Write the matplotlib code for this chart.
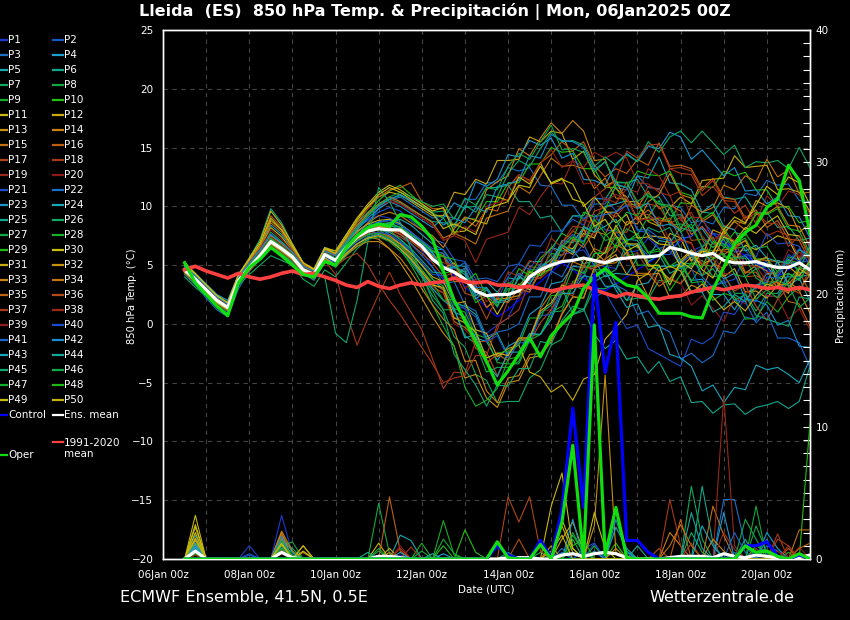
import matplotlib
matplotlib.use('Agg')
import matplotlib.pyplot as plt
import matplotlib.dates as mdates
from matplotlib.colors import LinearSegmentedColormap
from matplotlib.lines import Line2D
from matplotlib.ticker import MultipleLocator
from datetime import datetime, timedelta

# 6-hourly steps, 06Jan 12z .. 21Jan 00z
lead_hours = list(range(12, 361, 6))
run_start = datetime(2025, 1, 6)
times = [run_start + timedelta(hours=h) for h in lead_hours]

# 850 hPa temperature (degC), members P1..P50
t850_members = [
    [4.4,3.5,2.6,1.6,1.0,3.4,4.9,6.0,7.6,6.8,5.9,4.4,3.9,5.6, 5.2,6.8,8.0,8.9,9.2,9.0,8.6,7.5,6.2,4.8, 3.8,2.0,1.3,-0.5,-0.8,-0.1,0.5,2.4,3.1,4.3, 4.6,5.9,6.1,6.3,5.0,4.9,4.7,6.1,6.2,7.3, 6.4,6.2,5.1,6.2,6.6,7.7,6.8,6.4,5.2,5.3, 4.2,5.2,5.4,6.4,5.7],
    [4.9,4.1,3.2,2.3,1.7,4.0,5.1,6.2,7.3,6.5,5.5,4.8,4.5,6.2, 5.8,7.0,8.2,8.8,9.5,9.9,9.6,8.8,8.0,7.2, 6.9,5.5,5.3,3.8,3.9,3.6,4.9,5.1,6.7,6.6, 7.9,7.9,9.2,9.0,9.3,8.0,7.9,6.6,6.8,5.8, 5.9,5.9,7.3,7.4,8.8,7.7,7.5,6.1,6.3,5.0, 5.3,4.1,5.2,5.2,5.4],
    [4.2,3.3,2.2,1.2,0.6,3.0,4.5,5.5,6.5,6.0,5.2,4.3,3.7,5.2, 5.0,6.2,7.5,8.6,9.8,10.4,10.8,10.2,9.6,9.0, 9.2,9.0,10.6,10.6,12.0,12.0,13.3,13.0,13.3,11.8, 11.7,10.1,10.1,8.8,10.2,10.2,11.6,11.4,12.6,11.6, 11.5,10.1,9.9,8.6,8.8,8.5,9.9,9.8,11.1,10.9, 12.2,11.8,11.9,10.5,10.4],
    [5.1,4.3,3.4,2.5,2.0,4.2,5.4,6.6,8.4,7.6,6.4,5.1,4.6,6.5, 6.0,7.2,7.8,8.5,8.2,7.6,7.0,6.0,5.0,3.8, 2.9,1.0,0.6,-1.2,-1.5,-3.1,-1.9,-1.4,0.8,1.5, 3.4,3.6,4.9,4.8,4.7,3.2,3.2,2.0,3.3,3.5, 4.9,4.9,5.1,3.7,3.8,2.5,2.5,1.2,2.7,3.0, 4.3,4.3,5.5,4.4,4.3],
    [4.7,3.9,3.0,2.1,1.3,3.6,4.6,5.6,6.8,6.2,5.8,4.9,4.4,6.0, 5.5,6.4,7.3,7.8,8.3,8.6,8.9,8.4,7.6,6.8, 6.3,5.0,4.9,3.4,3.6,2.7,3.9,3.8,5.3,5.3, 6.5,6.2,6.3,5.1,5.4,4.0,4.3,4.2,5.6,5.7, 7.1,6.9,8.2,7.9,8.1,6.8,6.8,5.6,5.8,4.7, 4.9,3.8,4.0,4.0,4.2],
    [5.3,4.2,3.1,2.2,1.5,3.9,5.6,7.2,9.8,8.6,6.8,5.2,4.4,6.4, 6.0,7.4,8.6,9.5,10.2,10.6,10.3,9.7,9.2,8.7, 8.6,8.4,9.9,10.0,11.6,11.6,11.8,10.4,10.4,9.0, 9.2,7.8,9.2,9.2,10.7,10.6,12.0,12.0,12.3,10.8, 10.8,9.2,9.3,8.1,9.5,9.4,10.8,10.6,10.8,9.4, 9.5,8.2,8.3,7.1,7.3],
    [4.0,3.1,2.4,1.5,0.9,3.3,4.2,5.0,5.8,5.4,5.0,3.8,3.2,4.6, 4.0,5.2,6.4,7.2,7.8,7.5,6.8,5.5,4.0,2.4, 1.2,-1.1,-2.0,-4.3,-4.8,-6.7,-6.6,-6.6,-4.6,-3.9, -1.8,-1.3,0.8,1.1,3.0,3.0,3.4,2.0,2.2,2.1, 3.7,3.6,5.2,5.1,5.4,4.0,4.2,2.6,2.6,1.1, 2.6,2.6,4.2,4.1,5.3],
    [4.5,3.7,2.8,1.9,1.2,3.8,5.0,6.0,7.1,6.3,5.4,4.3,4.0,5.7, 5.2,6.3,7.2,8.0,8.6,8.4,8.2,7.6,7.0,6.2, 5.8,4.4,4.5,2.9,3.0,1.6,3.0,3.0,4.6,4.6, 6.0,5.8,7.2,7.0,8.4,7.1,7.3,5.8,6.0,4.6, 4.9,3.6,5.0,4.9,6.4,6.2,7.6,6.4,6.6,5.3, 5.6,4.4,5.7,5.5,5.8],
    [4.8,4.0,3.1,2.2,1.6,3.8,4.9,5.9,7.2,6.6,5.9,4.7,4.3,6.1, 5.6,6.6,7.6,8.2,8.4,8.0,7.2,6.2,5.0,3.8, 3.2,1.3,1.0,-0.9,-1.2,-3.3,-3.4,-3.4,-1.4,-0.9, 1.0,1.5,3.6,4.0,6.0,6.0,7.4,7.1,7.4,6.0, 6.2,4.8,5.0,3.6,5.0,4.9,6.5,6.4,7.7,6.4, 6.6,5.2,5.4,5.2,6.6],
    [4.3,3.4,2.5,1.7,1.1,3.5,4.7,5.7,6.9,6.3,5.6,4.5,4.1,5.8, 5.4,6.8,8.2,9.4,10.5,11.3,11.8,11.0,10.2,9.4, 9.0,7.6,9.0,8.9,10.4,10.4,12.0,12.0,13.6,13.6, 15.0,14.6,14.7,13.2,13.2,11.6,11.6,10.1,10.2,8.8, 9.0,8.8,10.3,10.2,11.7,11.6,13.0,12.6,12.9,11.4, 11.4,9.9,10.0,8.6,8.8],
    [5.0,4.2,3.3,2.4,1.8,4.1,5.3,6.4,8.2,7.4,6.2,5.0,4.6,6.3, 5.9,7.0,7.9,8.5,8.8,8.9,8.5,7.8,7.0,6.2, 6.0,4.3,4.7,2.5,2.4,0.8,2.4,3.4,2.9,4.4, 4.6,6.6,6.4,7.7,7.3,9.5,9.5,8.4,9.1,7.5, 7.4,7.3,5.4,6.3,4.6,3.9,5.8,5.4,6.7,6.3, 6.9,7.5,7.2,5.4,6.4],
    [4.6,3.8,2.9,2.0,1.3,3.7,5.2,6.5,8.8,8.0,6.6,5.2,4.7,6.5, 6.2,7.6,9.0,10.0,10.8,11.2,11.0,10.4,9.8,9.2, 9.2,11.2,11.0,12.3,11.9,13.9,13.9,14.0,15.9,15.5, 16.4,16.2,14.0,14.7,12.7,11.7,12.2,10.4,10.4,8.7, 8.3,9.9,10.8,10.2,12.2,12.3,12.4,14.3,13.3,13.4, 13.5,11.4,11.5,11.2,9.5],
    [4.4,3.6,2.7,1.8,1.1,3.5,4.6,5.6,6.8,6.1,5.5,4.4,4.0,5.6, 5.0,6.0,6.8,7.4,7.2,6.4,5.2,3.8,2.2,0.6, -0.8,-1.9,-4.6,-4.3,-6.3,-7.1,-5.0,-4.8,-2.9,-2.7, -1.5,0.8,2.3,2.2,4.8,5.1,5.2,6.1,4.1,4.2, 4.3,2.2,2.3,3.3,2.9,5.1,4.7,5.8,4.3,5.0, 4.5,3.0,3.6,2.9,4.2],
    [4.8,4.0,3.1,2.2,1.5,3.9,5.0,6.1,7.5,6.8,6.0,4.8,4.4,6.1, 5.8,6.9,7.8,8.6,9.2,9.5,9.2,8.6,8.0,7.5, 6.5,8.1,9.1,8.8,11.4,12.1,12.6,14.9,14.3,15.8, 17.1,16.2,17.3,16.4,13.9,14.0,11.5,10.8,8.8,9.1, 8.4,6.7,7.3,5.3,6.4,6.0,7.8,8.7,8.0,9.3, 9.4,10.0,8.4,8.3,6.5],
    [4.5,3.6,2.7,1.8,1.2,3.6,4.7,5.7,6.9,6.3,5.6,4.5,4.1,5.8, 5.3,6.3,7.1,7.6,7.8,7.5,6.8,5.8,4.6,3.4, 2.9,0.2,-0.3,-1.2,-3.3,-2.6,-3.1,-1.4,-1.2,1.3, 2.6,2.9,5.3,4.9,6.4,6.0,6.7,6.3,4.3,4.3, 3.2,3.8,3.4,4.6,4.1,6.2,6.3,6.4,7.1,5.5, 5.4,5.3,3.4,4.4,2.7],
    [4.9,4.0,3.0,2.1,1.4,3.8,5.3,6.8,9.2,8.2,6.6,5.1,4.5,6.3, 6.0,7.3,8.6,9.8,10.8,11.4,11.6,12.0,10.4,9.8, 9.8,8.3,8.9,8.3,9.8,9.6,11.6,12.7,12.2,13.7, 14.4,15.5,14.7,15.5,13.5,12.5,13.2,12.8,14.0,13.5, 15.4,13.4,13.5,13.2,11.5,12.4,10.7,10.6,9.0,9.7, 8.2,8.8,7.2,7.1,5.3],
    [4.6,3.8,2.9,2.0,1.4,3.7,4.8,5.8,7.0,6.4,5.7,4.6,4.2,5.9, 5.4,6.4,7.2,7.8,8.0,7.8,7.4,6.8,6.0,5.2, 4.0,4.4,2.6,2.3,0.4,2.3,2.5,2.8,4.9,4.7, 5.1,6.9,7.9,7.4,9.6,9.9,10.2,12.1,10.1,10.2, 10.0,8.5,9.1,7.1,7.2,5.6,6.2,5.9,4.0,4.1, 3.6,3.5,2.8,4.9,4.3],
    [4.3,3.5,2.6,1.7,1.1,3.4,4.5,5.5,6.6,6.0,5.4,4.2,3.8,5.4, 4.2,0.9,-1.8,0.5,2.5,4.4,2.5,1.0,-0.5,-3.0, -5.5,-4.1,-4.2,-1.5,-1.5,-0.5,2.0,2.2,4.0,3.9, 6.5,5.8,7.1,8.0,7.5,9.6,9.1,10.2,9.8,11.7, 11.4,13.2,12.8,12.7,10.9,11.7,10.5,9.4,10.1,8.5, 7.5,7.9,7.5,5.6,6.4],
    [4.7,3.9,3.0,2.1,1.5,3.8,5.0,6.1,7.4,6.7,6.0,4.8,4.4,6.1, 5.8,7.0,8.2,9.2,10.0,10.6,10.2,9.6,9.0,8.4, 7.1,7.5,7.1,5.2,7.2,7.5,7.8,9.9,9.3,10.8, 12.0,11.9,13.9,13.3,14.6,14.1,14.6,14.1,12.0,11.9, 11.2,10.9,8.8,9.5,7.5,6.5,8.4,8.0,9.2,8.7, 10.9,10.0,11.3,11.0,9.3],
    [4.4,3.6,2.7,1.8,1.2,3.5,4.6,5.6,6.8,6.2,5.5,4.4,4.0,5.6, 5.0,6.0,6.8,7.4,7.6,7.2,6.4,5.4,4.2,3.0, 2.7,0.0,-0.5,-1.4,-3.5,-2.4,-2.7,-1.2,-1.2,1.1, 1.2,3.4,3.4,4.9,4.5,6.5,6.5,5.4,6.1,4.5, 3.5,3.9,3.5,1.6,2.4,1.3,0.2,2.3,1.7,3.2, 4.4,4.3,6.3,5.7,7.2],
    [4.6,3.7,2.8,1.9,1.3,3.6,4.7,5.7,6.9,6.3,5.7,4.6,4.2,5.8, 5.3,6.4,7.4,8.2,8.6,8.8,8.4,7.8,7.0,6.2, 6.0,4.3,4.7,2.5,2.4,2.0,4.0,5.1,4.6,6.1, 6.1,7.9,8.9,8.4,10.6,10.7,9.6,10.1,7.9,7.8, 6.4,6.8,5.0,4.7,2.7,3.3,3.5,3.8,5.9,5.7, 7.7,6.8,6.9,6.6,4.9],
    [4.8,3.9,3.0,2.1,1.5,3.8,4.9,5.9,7.2,6.5,5.8,4.7,4.3,6.0, 5.6,6.6,7.6,8.2,8.5,8.2,7.6,6.8,5.8,4.8, 3.4,3.6,1.6,1.1,-1.1,-0.7,-0.5,0.0,2.3,2.3, 4.5,4.0,5.7,6.8,4.9,5.4,3.3,2.8,0.8,1.1, -0.2,-0.7,-3.0,-2.5,-3.3,-2.7,-0.6,-0.8,0.6,0.3, 2.4,2.3,4.3,3.7,5.2],
    [4.5,3.7,2.8,1.9,1.3,3.7,4.9,5.9,7.1,6.4,5.6,4.5,4.1,5.8, 5.5,6.8,8.0,9.0,9.8,10.4,10.0,9.4,8.8,8.2, 9.0,10.3,9.8,12.1,11.7,12.3,14.4,14.2,15.6,15.2, 15.8,14.1,14.5,12.3,12.2,11.8,13.6,14.5,13.8,15.1, 14.9,16.3,15.9,14.0,14.8,13.7,12.6,13.3,11.3,11.4, 10.2,10.8,9.2,9.1,7.3],
    [4.4,3.6,2.7,1.8,1.2,3.6,4.7,5.7,6.9,6.3,5.6,4.5,4.1,5.7, 5.2,6.2,7.2,7.9,8.4,8.6,8.2,7.6,6.9,6.1, 4.6,4.8,4.2,2.1,2.9,1.8,1.9,4.0,3.4,4.9, 5.1,7.1,6.9,8.2,7.8,10.0,10.2,10.5,12.6,12.4, 14.2,12.0,11.9,11.4,9.5,10.2,8.3,8.0,6.2,6.7, 5.6,5.3,3.2,3.9,1.9],
    [4.6,3.8,2.9,2.0,1.4,3.7,4.8,5.8,7.0,6.4,5.7,4.6,4.2,5.9, 5.4,6.4,7.2,7.8,8.0,7.8,7.2,6.4,5.4,4.4, 4.3,1.8,1.5,0.8,-1.3,-0.8,-2.7,-1.4,-1.4,0.9, 1.6,3.1,0.8,1.3,-0.9,-2.1,-1.4,-3.0,-2.8,-4.2, -3.2,-4.9,-4.5,-6.7,-6.6,-7.6,-6.9,-6.8,-7.7,-7.1, -6.9,-6.6,-7.2,-6.6,-3.6],
    [4.9,4.1,3.2,2.3,1.7,4.0,5.2,6.3,7.8,7.0,6.1,4.9,4.5,6.2, 5.9,7.1,8.3,9.3,10.1,10.6,10.9,10.5,10.0,9.5, 9.6,8.2,10.1,9.5,11.0,10.8,12.8,13.9,13.4,14.9, 16.3,15.5,15.6,15.2,13.4,14.2,13.5,14.4,13.8,15.5, 14.6,15.9,16.4,15.4,16.4,15.4,14.4,15.2,13.3,13.8, 13.7,13.9,13.2,15.0,13.3],
    [4.3,3.5,2.6,1.7,1.1,3.4,4.5,5.5,6.6,6.0,5.3,4.2,3.8,5.4, 4.8,5.8,6.6,7.2,7.4,7.0,6.2,5.2,4.0,2.8, 1.2,1.2,-1.0,-1.7,-4.1,-3.7,-3.7,-3.2,-0.9,-0.9, 1.0,1.1,3.3,2.9,4.6,4.6,6.8,8.1,7.6,9.1, 10.5,8.4,8.5,8.2,6.5,7.4,5.7,5.6,4.0,4.7, 2.9,4.5,5.3,4.6,6.6],
    [4.8,4.0,3.1,2.2,1.6,3.9,5.0,6.0,7.3,6.6,5.9,4.7,4.3,6.0, 5.5,6.5,7.3,7.9,8.0,7.4,6.4,5.0,3.4,1.6, -0.2,-1.9,-5.4,-7.0,-6.5,-5.5,-3.0,-2.8,-1.0,-0.9, 0.6,3.0,3.2,4.9,4.9,7.5,8.1,7.0,7.7,6.1, 6.4,4.9,5.5,3.5,3.6,2.0,2.6,2.3,0.4,0.5, 1.9,1.0,2.3,3.2,2.7],
    [4.5,3.7,2.8,1.9,1.3,3.6,4.7,5.8,7.0,6.4,5.7,4.6,4.2,5.9, 5.4,6.5,7.4,8.0,8.3,8.2,7.9,7.3,6.6,5.8, 4.3,4.5,3.9,1.8,2.4,2.5,2.6,4.7,4.1,5.6, 6.4,7.7,7.2,9.5,9.1,9.7,11.8,11.6,13.0,12.7, 12.6,13.0,11.2,10.9,8.9,9.5,8.1,6.8,7.3,5.5, 5.6,3.9,4.3,3.7,5.2],
    [5.0,4.2,3.3,2.4,1.8,4.2,5.6,7.0,9.6,8.4,6.8,5.2,4.6,6.4, 6.2,7.6,9.0,10.2,11.2,11.8,11.4,10.8,10.2,9.6, 9.9,7.8,7.9,8.8,8.5,10.8,10.5,11.8,11.6,13.7, 11.9,12.3,11.9,10.0,10.8,9.7,8.6,9.3,7.3,7.4, 6.8,6.7,4.8,5.7,5.1,5.5,7.4,7.0,8.2,7.7, 8.6,9.2,7.6,7.5,5.7],
    [4.6,3.8,2.9,2.0,1.4,3.7,4.8,5.8,7.0,6.4,5.7,4.6,4.2,5.9, 5.4,6.3,7.1,7.6,7.8,7.4,6.8,6.0,5.0,4.0, 3.6,1.7,1.9,-0.5,-0.8,-2.8,-2.1,-1.8,-4.1,-4.5, -5.8,-5.2,-6.5,-4.7,-4.3,-1.3,-0.3,0.8,3.7,4.3, 5.5,7.7,7.3,5.4,6.2,5.1,4.0,4.7,2.7,2.8, 2.2,3.3,2.6,4.7,4.1],
    [4.7,3.9,3.0,2.1,1.5,3.8,4.9,5.9,7.2,6.5,5.8,4.7,4.3,6.0, 5.5,6.5,7.4,8.0,8.3,8.2,7.8,7.2,6.5,5.8, 4.7,5.2,3.5,3.3,1.4,2.1,2.2,2.4,4.4,4.1, 5.3,6.5,5.9,8.1,6.2,5.3,5.9,4.2,4.1,2.3, 4.6,3.8,5.2,6.2,5.8,8.0,7.6,8.8,8.5,10.5, 10.0,10.3,9.8,7.8,8.5],
    [4.4,3.6,2.7,1.8,1.2,3.5,4.6,5.6,6.8,6.2,5.5,4.4,4.0,5.6, 5.0,5.9,6.6,7.0,7.0,6.4,5.6,4.4,3.0,1.6, 0.4,-0.5,-3.2,-3.1,-5.7,-6.7,-4.6,-4.4,-2.6,-2.5, -1.3,0.9,2.3,2.2,4.8,5.5,6.2,8.7,8.5,10.4, 11.0,12.8,11.0,10.7,8.7,9.3,7.9,6.6,7.1,5.3, 5.7,3.4,3.3,2.8,0.9],
    [4.8,4.0,3.1,2.2,1.6,4.0,5.4,6.6,8.6,7.8,6.4,5.0,4.5,6.2, 5.9,7.2,8.4,9.4,10.2,10.8,10.4,9.8,9.2,8.6, 7.3,7.7,7.3,6.8,9.0,9.3,9.6,11.7,11.1,12.6, 14.1,13.4,13.5,13.2,11.5,12.4,10.7,10.6,9.0,9.7, 8.8,8.7,8.0,10.1,9.5,9.9,11.8,11.4,12.6,12.1, 14.0,12.5,13.1,11.1,11.2],
    [4.5,3.7,2.8,1.9,1.3,3.7,4.8,5.8,7.0,6.4,5.7,4.6,4.2,5.8, 5.3,6.3,7.2,7.8,8.1,8.0,7.6,7.0,6.3,5.6, 5.8,3.6,3.6,3.2,1.4,2.2,1.8,3.0,2.7,4.7, 5.5,5.3,7.2,6.5,7.9,7.6,9.5,10.5,9.9,11.3, 9.8,10.1,9.6,7.6,8.3,7.1,5.9,6.5,4.4,4.4, 3.1,3.6,1.9,1.7,-0.2],
    [4.7,3.9,3.0,2.1,1.5,3.8,4.9,5.9,7.1,6.5,5.8,4.7,4.3,6.0, 5.5,6.4,7.2,7.7,7.8,7.4,6.6,5.6,4.4,3.2, 2.6,0.5,0.5,-2.1,-2.4,-4.4,-2.6,-1.3,-1.6,0.1, 1.2,2.7,2.4,4.9,4.7,5.5,7.8,7.8,9.4,9.3, 8.6,9.0,7.2,6.9,4.9,5.5,4.1,2.8,3.3,1.5, 0.3,2.1,3.1,2.6,4.8],
    [4.3,3.5,2.6,1.7,1.1,3.4,4.5,5.5,6.7,6.1,5.4,4.3,3.9,5.5, 4.9,5.6,6.0,5.0,3.4,2.0,0.8,-0.6,-2.0,-3.4, -5.0,-4.6,-4.4,-2.7,-2.7,-0.1,0.5,1.2,3.7,3.9, 4.7,6.9,8.3,8.2,10.8,11.5,12.2,14.7,14.1,15.2, 15.3,13.2,13.3,13.0,11.3,12.2,10.5,10.4,8.8,9.5, 8.6,8.5,6.6,7.5,5.7],
    [4.6,3.8,2.9,2.0,1.4,3.7,4.8,5.8,7.0,6.4,5.7,4.6,4.2,5.9, 5.4,6.4,7.3,7.9,8.2,8.1,7.7,7.1,6.4,5.7, 5.2,5.0,3.0,3.8,1.9,2.4,4.4,4.1,5.4,5.0, 7.3,6.5,7.9,8.9,8.5,10.7,10.3,11.5,11.2,13.2, 12.6,10.9,11.3,9.1,9.0,7.2,7.6,7.1,5.0,4.9, 3.6,5.4,5.0,6.1,5.5],
    [4.8,4.0,3.1,2.2,1.6,3.9,5.2,6.4,8.0,7.2,6.2,4.9,4.5,6.2, 5.8,7.0,8.2,9.2,10.0,10.4,10.2,9.6,9.0,8.4, 7.1,7.5,8.3,7.8,10.0,10.3,10.6,12.7,12.1,13.6, 14.8,13.3,13.9,11.9,12.0,10.4,11.0,10.7,8.8,8.9, 9.1,7.0,7.1,6.8,5.1,6.0,4.3,4.2,2.6,3.3, 2.4,2.3,0.4,1.3,-0.5],
    [4.5,3.7,2.8,1.9,1.3,3.6,4.7,5.7,6.9,6.3,5.6,4.5,4.1,5.7, 5.2,6.2,7.0,7.6,7.8,7.6,7.0,6.2,5.2,4.2, 4.1,1.6,1.3,0.6,-1.5,-1.0,-2.9,-1.6,-1.6,0.7, 0.8,3.0,3.0,4.5,2.3,2.7,1.1,-0.4,-0.1,-2.1, -2.6,-3.1,-3.6,-1.3,-1.7,-1.1,1.0,0.8,2.2,1.9, 4.0,3.9,5.9,5.3,6.8],
    [4.7,3.9,3.0,2.1,1.5,3.8,4.9,5.9,7.1,6.5,5.8,4.7,4.3,6.0, 5.5,6.6,7.6,8.3,8.7,8.8,8.4,7.8,7.1,6.4, 6.3,4.7,5.2,3.1,3.1,1.4,3.3,4.3,3.7,5.1, 5.0,6.7,7.6,7.0,9.1,9.3,9.5,10.1,8.0,8.0, 7.3,7.1,5.1,5.9,4.0,3.1,3.7,2.0,1.9,0.1, 1.0,-1.2,-1.2,-1.6,-3.7],
    [4.9,4.1,3.2,2.3,1.7,4.0,5.2,6.3,7.6,6.9,6.1,4.9,4.5,6.2, 5.8,7.0,8.2,9.2,10.0,10.6,11.0,10.5,10.0,9.4, 8.4,9.0,8.6,9.9,9.5,11.7,11.9,12.2,14.3,14.1, 16.1,15.6,15.5,15.0,13.1,13.8,11.9,11.6,9.8,10.3, 8.3,8.5,7.9,5.8,6.4,5.1,3.8,4.3,2.1,2.0, 1.6,-0.1,0.3,-1.9,-2.0],
    [4.4,3.6,2.7,1.8,1.2,3.5,4.6,5.6,6.8,6.2,5.5,4.4,4.0,5.6, 5.0,6.0,6.8,7.4,7.6,7.2,6.4,5.4,4.2,3.0, 2.0,1.3,-1.2,-0.9,-3.3,-4.5,-2.4,-2.4,-0.8,-0.9, 0.4,2.6,2.6,4.1,3.9,4.5,2.9,1.4,1.7,-0.3, -0.1,-2.6,-2.9,-3.6,-5.7,-5.2,-6.7,-5.4,-5.6,-3.5, -3.9,-3.7,-4.3,-5.0,-3.0],
    [4.6,3.8,2.9,2.0,1.4,3.7,4.8,5.8,7.0,6.4,5.7,4.6,4.2,5.9, 5.4,6.5,7.4,8.1,8.4,8.4,8.0,7.4,6.7,6.0, 4.6,4.9,4.4,2.4,3.1,1.9,2.1,4.1,3.4,4.8, 5.5,6.7,6.1,8.3,7.8,8.3,8.9,7.2,7.1,5.3, 5.9,4.3,4.8,2.7,2.7,1.0,1.5,2.5,1.9,3.3, 3.5,5.4,5.1,6.3,5.8],
    [4.5,3.7,2.8,1.9,1.3,3.7,4.8,5.8,7.0,6.4,5.7,4.6,4.1,4.0, -0.8,-1.6,2.0,7.0,11.6,10.4,8.6,6.4,4.2,2.0, 0.9,-2.6,-3.9,-5.2,-7.0,-5.2,-5.3,-3.8,-3.8,-1.5, -1.7,0.3,1.5,1.2,3.6,4.1,4.6,6.9,6.5,8.2, 7.8,8.2,6.4,6.1,4.1,4.7,3.3,2.0,2.5,0.7, 0.4,0.1,-0.2,2.3,2.1],
    [4.7,3.9,3.0,2.1,1.5,3.8,5.0,6.0,7.2,6.5,5.8,4.7,4.3,6.0, 5.6,6.9,8.1,9.2,10.1,10.8,11.2,10.8,10.4,10.0, 10.2,8.9,10.7,10.1,11.6,11.4,13.4,14.5,14.0,15.5, 16.9,14.8,14.9,14.6,12.9,13.8,12.1,12.0,10.4,11.1, 10.2,10.1,8.2,9.1,7.3,6.5,7.2,5.6,5.6,3.9, 3.3,3.7,3.3,1.4,2.2],
    [4.6,3.8,2.9,2.0,1.4,3.7,4.8,5.8,7.0,6.4,5.7,4.6,4.2,5.9, 5.4,6.3,7.1,7.6,7.7,7.3,6.6,5.7,4.6,3.5, 2.0,2.1,0.0,-0.6,-2.9,-2.5,-2.3,-1.8,0.5,0.5, 2.4,2.5,4.7,4.3,6.0,6.0,8.2,9.5,9.2,10.9, 10.2,9.9,7.8,8.5,6.5,5.5,6.0,4.2,4.0,2.1, 2.9,2.2,3.7,4.8,4.5],
    [4.5,3.6,2.7,1.8,1.2,3.6,4.7,5.7,6.9,6.3,5.6,4.5,4.1,5.8, 5.3,6.4,7.4,8.1,8.5,8.6,8.2,7.6,6.9,6.2, 5.7,5.5,3.5,4.3,2.4,1.5,3.5,3.2,4.5,4.1, 4.8,6.5,7.4,6.8,8.9,7.7,6.5,7.1,5.0,5.0, 5.0,2.8,4.2,5.2,4.8,7.0,6.6,7.8,7.5,9.5, 9.3,9.8,8.1,7.9,6.0],
    [5.2,4.3,3.3,2.4,1.8,4.2,5.5,6.8,9.0,8.0,6.6,5.2,4.6,6.4, 6.0,7.4,8.8,10.0,11.0,11.6,11.2,10.6,10.0,9.4, 8.1,8.5,8.1,7.6,9.8,10.1,10.4,12.5,11.9,13.4, 12.0,12.4,10.6,10.3,8.3,8.9,7.5,6.2,6.7,4.9, 5.0,3.3,5.3,4.7,6.2,6.0,8.0,9.1,8.6,10.1, 11.7,11.0,12.5,12.0,10.1],
    [4.4,3.6,2.7,1.8,1.2,3.5,4.6,5.6,6.8,6.2,5.5,4.4,4.0,5.6, 5.0,6.0,6.8,7.3,7.5,7.1,6.4,5.5,4.4,3.3, 3.1,0.5,0.1,-0.7,-2.9,-2.5,-2.7,-1.2,-1.2,1.1, 1.8,3.3,3.0,5.5,5.3,6.1,8.4,6.8,6.8,5.1, 4.5,4.9,4.5,2.6,3.4,2.3,1.2,1.9,1.1,2.4, 3.4,3.1,4.9,4.1,5.4],
]

t850_control = [4.6,3.8,2.9,2.0,1.4,3.7,4.8,5.8,7.0,6.4,5.7,4.6,4.2,5.9, 5.4,6.5,7.4,8.0,8.3,8.4,8.2,7.5,6.8,5.9, 5.0,4.1,3.2,2.3,1.4,0.6,1.2,2.0,2.8,3.6, 4.4,5.2,4.6,3.9,3.2,2.8,3.4,4.0,4.6,5.2, 5.8,6.4,7.0,7.6,8.2,7.6,7.0,6.4,5.8,5.2, 4.6,4.0,4.6,5.2,5.8]
t850_oper = [5.2,3.5,2.5,1.5,0.7,3.5,4.8,5.5,6.5,5.8,5.0,4.2,4.0,5.3, 5.0,6.5,7.5,8.2,8.5,8.3,9.3,9.1,8.3,7.2, 4.5,2.0,0.3,-1.5,-3.2,-5.2,-4.0,-2.6,-1.2,-2.8, -1.0,0.0,0.9,3.0,4.0,4.7,3.9,3.3,3.1,2.2, 0.9,0.9,0.9,0.6,0.5,2.9,4.8,6.8,7.8,8.4, 9.9,10.6,13.5,12.2,7.7]
t850_mean = [4.6,3.8,2.9,2.0,1.4,3.7,4.8,5.8,7.0,6.4,5.7,4.6,4.2,5.9, 5.4,6.5,7.4,7.9,8.1,8.0,8.0,7.3,6.6,5.5, 4.8,4.4,3.8,2.8,2.4,2.5,2.5,2.8,4.0,4.6, 5.0,5.3,5.4,5.6,5.4,5.2,5.5,5.6,5.7,5.7, 5.8,6.5,6.3,6.0,5.8,6.0,5.4,5.2,5.2,5.3, 5.0,4.8,4.8,5.2,4.6]
t850_clim = [4.6,4.9,4.5,4.2,3.9,4.3,4.0,3.8,4.0,4.3,4.5,4.2,4.3,4.0, 3.7,3.3,3.1,3.6,3.2,3.0,3.3,3.5,3.3,3.5, 3.6,3.9,3.6,3.5,3.6,3.3,3.3,3.1,3.2,3.0, 2.8,3.0,3.2,3.3,2.9,2.6,2.3,2.6,2.4,2.2, 2.1,2.3,2.4,2.7,2.9,3.1,2.9,3.1,3.3,3.2, 3.0,3.1,2.9,3.1,2.9]

# 6-hourly precipitation (mm), members P1..P50
precip_members = [
    [0,.8,0,0,0,0,1,0,0,3.3, .4,0,0,0,0,0,0,0,0,0, .3,0,0,0,0,0,0,0,0,0, 0,0,0,0,0,0,0,0,.5,0, 0,0,0,0,0,0,0,0,0,0, 0,0,0,0,.4,0,0,0,0],
    [0,.6,0,0,0,0,0,0,0,.9, 0,0,0,0,0,0,0,0,.3,0, 0,0,0,0,0,0,0,0,0,0, 0,0,0,0,0,0,0,.8,1.2,0, 0,0,0,0,0,0,0,0,0,0, 0,.5,0,0,0,0,0,0,0],
    [0,1.2,0,0,0,0,0,0,0,1.4, 0,0,0,0,0,0,0,0,0,0, 0,0,0,0,0,0,0,0,0,0, 0,0,0,0,0,.5,0,0,0,0, 0,0,0,0,0,0,0,0,0,0, 4.5,4.5,1,0,0,0,0,0,0],
    [0,1.5,0,0,0,0,0,0,0,1.8, .5,0,0,0,0,0,0,0,0,0, 0,0,0,0,.4,0,0,0,0,0, 0,0,0,0,0,0,0,0,.6,0, 0,0,0,0,0,0,0,0,0,0, 0,0,0,0,2,.8,0,0,0],
    [0,1.8,0,0,0,0,0,0,0,.8, 0,0,0,0,0,0,0,0,0,0, 1.8,1.4,0,0,0,0,0,0,0,0, 0,0,0,0,0,0,0,0,0,0, 3.8,.6,0,0,0,0,0,0,0,0, 0,0,0,0,0,0,0,0,0],
    [0,.9,0,0,0,0,0,0,0,1, 0,0,0,0,0,0,0,0,0,0, 0,0,0,0,0,0,0,0,0,0, .5,0,0,0,0,0,0,0,0,0, 0,0,0,0,0,0,0,0,5.5,1.2, 0,0,0,.8,0,0,0,0,0],
    [0,.5,0,0,0,0,0,0,0,1.2, .8,0,0,0,0,0,0,0,.6,0, 0,0,0,0,0,0,0,0,0,0, 0,0,0,.5,0,0,1.5,0,0,0, 0,0,0,0,0,0,0,5.5,1.5,0, 0,0,0,0,0,0,0,0,0],
    [0,.7,0,0,0,0,0,0,0,1, 1.3,0,0,0,0,0,0,0,4.2,.4, 0,0,0,0,0,0,0,0,0,0, 0,0,0,0,0,0,2,.5,0,0, 0,0,0,0,0,0,0,0,0,0, 0,0,0,4,0,0,0,0,0],
    [0,.4,0,0,0,0,0,0,0,.7, 0,0,0,0,0,0,0,0,0,0, 0,0,1.2,0,2.9,.3,0,0,0,0, 0,0,0,0,0,0,0,0,1,0, 0,0,0,0,0,0,0,0,0,0, 0,0,0,0,0,0,.5,0,0],
    [0,.6,0,0,0,0,0,0,0,1.4, 0,0,0,0,0,0,0,0,0,0, 0,0,0,0,0,0,2.2,.5,0,0, 0,0,0,0,0,0,0,0,0,0, 1.2,0,0,0,0,0,0,0,0,0, 0,0,0,0,0,0,0,0,10.3],
    [0,3.3,0,0,0,0,0,0,0,.8, 0,1,0,0,0,0,0,0,1.2,0, 0,0,0,0,0,0,0,0,0,0, 0,0,0,0,4,6.5,.8,0,0,0, 0,0,0,0,0,0,0,0,0,0, 0,0,0,0,0,0,0,0,0],
    [0,2.4,0,0,0,0,0,0,0,1.1, 0,0,0,0,0,0,0,0,0,.8, 0,0,0,0,0,0,0,0,0,0, 0,0,0,0,0,1.5,2.8,.6,0,0, 0,0,0,0,0,0,0,0,0,0, 0,0,0,0,0,0,0,0,0],
    [0,1.6,0,0,0,0,0,0,0,1.6, 0,.5,0,0,0,0,0,0,0,0, 0,0,0,0,0,0,0,0,0,0, 0,0,0,0,0,0,0,0,2.5,13.9, .5,0,0,0,0,0,0,0,0,0, 0,0,0,0,0,0,0,0,0],
    [0,1,0,0,0,0,0,0,0,2.1, .6,0,0,0,0,0,0,0,0,0, 0,0,0,0,0,0,0,0,0,0, 0,0,0,0,0,0,0,0,0,0, 0,0,0,0,0,2,1,0,0,0, 0,0,0,0,0,0,0,0,0],
    [0,.8,0,0,0,0,0,0,0,1.5, 0,0,0,0,0,0,0,0,0,0, 0,0,0,0,0,0,0,0,0,0, 0,0,0,0,0,0,0,0,0,0, 0,0,0,0,0,0,0,0,0,4, 1.8,0,0,0,0,0,0,2.2,2.2],
    [0,.5,0,0,0,0,0,0,0,1.2, 0,0,0,0,0,0,0,0,0,4.7, .6,0,0,0,0,0,0,0,0,0, 0,0,0,0,0,0,0,0,0,0, 0,0,0,0,0,0,3,0,0,0, 0,0,0,0,0,0,.8,0,0],
    [0,.7,0,0,0,0,0,0,0,1.8, 0,0,0,0,0,0,0,0,0,0, 0,0,0,0,0,0,0,0,0,0, 4.7,2.8,4.7,.6,0,0,0,0,0,0, 0,0,0,0,0,0,0,0,0,0, 0,0,0,0,0,0,0,0,0],
    [0,.4,0,0,0,0,0,0,0,.9, 0,0,0,0,0,0,0,0,0,0, 0,.9,0,0,0,0,0,0,0,0, 0,0,0,0,0,0,0,0,0,0, 0,0,0,0,0,4.5,1,0,0,0, 0,0,0,0,0,1.9,0,0,0],
    [0,.3,0,0,0,0,0,0,0,.5, 0,0,0,0,0,0,0,0,0,0, 0,0,0,0,0,0,0,0,0,0, 0,0,0,0,0,0,0,0,0,0, 0,0,0,0,0,0,0,0,0,0, 12.3,1,0,0,0,0,1,0,0],
    [0,.3,0,0,0,0,0,0,0,.4, 0,0,0,0,0,0,0,0,0,0, 1,0,0,0,0,0,0,0,0,0, 0,0,0,0,0,0,0,0,0,0, 0,0,0,0,0,0,0,0,0,0, 0,0,0,.8,0,0,0,.9,0],
    [0,.5,0,0,0,0,.4,0,0,.8, 0,0,0,0,0,0,0,0,0,0, 0,0,0,0,0,0,0,0,0,0, 0,0,0,0,0,0,0,.6,0,0, 0,0,0,0,0,0,0,0,0,0, 0,0,0,0,0,0,0,0,0],
    [0,.6,0,0,0,0,0,0,0,1, 0,0,0,0,0,0,0,0,0,0, 0,0,0,0,0,0,0,0,0,0, 0,0,0,0,0,.8,0,0,0,0, 0,0,0,0,0,0,0,0,0,0, 0,0,0,0,1,.6,0,0,0],
    [0,.8,0,0,0,0,0,0,0,1.2, 0,0,0,0,0,0,0,0,0,0, 0,0,0,0,0,0,0,0,0,0, 0,0,0,0,0,0,3,0,0,0, 0,0,0,0,0,0,0,0,0,0, 3.5,0,0,0,0,0,0,0,0],
    [0,1.2,0,0,0,0,0,0,0,.7, 0,0,0,0,0,0,0,0,0,0, 0,0,0,.4,0,0,0,0,0,0, 0,0,0,0,0,0,0,0,0,0, 2.4,.8,0,0,0,0,0,0,0,0, 0,0,0,0,0,0,0,0,0],
    [0,.9,0,0,0,0,0,0,0,1, 0,0,0,0,0,0,0,.5,0,0, 0,0,0,0,0,0,0,0,0,0, 0,0,0,0,0,0,0,0,0,0, 0,0,1,0,0,0,0,0,0,0, 0,0,1.5,0,0,0,0,0,0],
    [0,1,0,0,0,0,0,0,0,.6, 0,0,0,0,0,0,0,0,0,0, 0,0,0,0,0,0,0,0,0,0, 0,0,0,0,0,0,0,0,0,0, 0,0,0,0,0,0,0,2,.5,0, 0,0,0,0,0,0,0,0,0],
    [0,.6,0,0,0,0,0,0,0,1.3, 0,0,0,0,0,0,0,0,0,0, 0,0,.6,0,0,0,0,0,0,0, 0,0,0,0,0,0,0,0,0,0, 0,0,0,0,0,0,0,0,0,0, 0,0,3,1.5,0,0,0,0,0],
    [0,.7,0,0,0,0,0,0,0,.8, 0,0,0,0,0,0,0,0,.8,0, 0,0,0,0,0,0,0,0,0,0, 0,0,0,0,0,0,1.8,.5,0,0, 0,0,0,0,0,0,0,0,0,0, 0,0,0,0,0,0,0,0,0],
    [0,.5,0,0,0,0,0,0,0,.6, 0,0,0,0,0,0,0,0,0,0, 0,0,0,0,1,0,0,0,0,0, 0,0,0,0,0,0,0,0,0,0, 0,0,0,0,0,0,0,0,0,0, 0,0,0,1,.5,0,0,0,0],
    [0,2,0,0,0,0,0,0,0,.9, 0,.6,0,0,0,0,0,0,0,0, 0,0,0,0,0,0,0,0,0,0, 0,0,0,0,0,0,0,0,3.5,.8, 0,0,0,0,0,0,0,0,0,0, 0,0,0,0,0,0,0,0,0],
    [0,1.4,0,0,0,0,0,0,0,1, 0,0,0,0,0,0,0,0,0,0, 0,0,0,0,0,0,0,0,0,0, 0,0,0,0,0,2.5,.5,0,0,0, 0,0,0,0,0,0,0,0,0,0, 0,0,0,0,0,0,0,0,0],
    [0,1.1,0,0,0,0,0,0,0,1.5, 0,0,0,0,0,0,0,0,0,0, 0,0,0,0,0,0,0,0,0,0, 0,0,0,0,1,0,0,0,0,0, .8,0,0,0,0,0,0,0,0,0, 0,0,0,0,0,0,0,0,0],
    [0,.9,0,0,0,0,0,0,0,2, 0,0,0,0,0,0,0,0,0,.5, 0,0,0,0,0,0,0,0,0,0, 0,0,0,0,0,0,0,0,0,0, 0,0,0,0,0,0,0,0,0,1.5, .6,0,0,0,0,0,0,0,0],
    [0,.7,0,0,0,0,0,0,0,1.6, 0,0,0,0,0,0,0,0,0,0, 0,0,0,0,0,0,0,0,0,0, 0,0,0,0,0,0,0,0,0,0, 0,0,0,0,0,1,2.6,1,0,0, 0,0,0,0,0,0,0,0,0],
    [0,.6,0,0,0,0,0,0,0,1.1, 0,0,0,0,0,0,0,0,0,0, 0,0,0,0,0,0,0,0,0,0, 0,0,0,0,0,0,0,0,0,0, 0,0,0,0,0,0,0,0,0,0, 0,0,0,0,0,0,0,.8,1.2],
    [0,.5,0,0,0,0,0,0,0,.9, 0,0,0,0,0,0,0,0,0,0, 0,0,0,0,0,0,0,0,0,0, 0,1.5,0,0,0,0,0,0,0,0, 0,0,0,0,.8,0,0,0,0,0, 0,0,0,0,0,0,0,0,0],
    [0,.4,0,0,0,0,0,0,0,.7, 0,0,0,0,0,0,0,0,0,0, .8,0,0,0,0,0,0,0,0,0, 0,0,0,0,0,0,0,0,0,0, 0,0,0,0,0,0,0,1.2,0,0, 0,0,0,0,0,1.5,1,0,0],
    [0,.3,0,0,0,0,0,0,0,.6, 0,0,0,0,0,0,0,0,0,0, 0,0,0,0,0,0,0,0,0,0, 0,0,0,0,0,0,0,0,0,0, 0,0,0,0,0,0,0,0,0,0, 2,.7,0,0,0,0,0,0,0],
    [0,.3,0,0,0,0,0,0,0,.5, 0,0,0,0,0,0,0,0,0,0, 0,0,0,0,0,0,0,0,0,0, 0,0,0,0,0,0,0,0,0,0, 0,0,0,0,0,0,0,0,0,0, 0,0,0,0,0,.6,0,0,0],
    [0,.5,0,0,0,0,.3,0,0,.9, 0,0,0,0,0,0,0,0,0,0, 0,0,0,0,0,0,0,0,0,0, 0,0,0,0,0,0,0,0,1.2,0, 0,0,0,0,0,0,0,0,0,0, 0,0,0,0,0,0,0,0,0],
    [0,.8,0,0,0,0,0,0,0,1.3, 0,0,0,0,0,0,0,0,0,0, 0,0,0,0,0,0,0,0,0,0, 0,0,0,0,0,0,0,0,0,0, 0,0,0,0,0,0,0,0,0,0, 0,2,.5,0,0,0,0,0,0],
    [0,1,0,0,0,0,0,0,0,1.7, 0,0,0,0,0,0,0,0,0,0, 0,0,0,0,0,0,0,0,0,0, 0,0,0,0,0,0,0,0,0,0, 3,.5,0,0,0,0,0,0,0,0, 0,0,0,0,1.5,0,0,0,0],
    [0,.9,0,0,0,0,0,0,0,1.2, 0,0,0,0,0,0,0,0,0,0, .5,0,0,0,0,0,0,0,0,0, 0,0,0,0,0,0,0,0,0,0, 0,0,0,0,0,0,0,0,2.5,1, 0,0,0,0,0,0,0,0,0],
    [0,1.2,0,0,0,0,0,0,0,.8, 0,0,0,0,0,0,0,0,0,0, 0,0,0,0,0,0,0,0,0,0, 0,0,0,0,0,0,0,0,0,0, 0,0,0,0,0,0,0,3.5,.8,0, 0,0,0,0,0,0,0,0,0],
    [0,.7,0,0,0,0,0,0,0,1, .5,0,0,0,0,0,0,0,0,0, 0,0,0,0,0,0,0,0,0,0, 0,0,0,1,.4,0,0,0,0,0, 0,0,0,0,0,0,0,0,0,0, 0,0,0,0,0,0,0,0,0],
    [0,.6,0,0,0,0,0,0,0,1.4, 0,0,0,0,0,0,0,0,0,0, 0,0,0,0,0,0,0,0,0,0, 0,0,0,0,0,0,0,0,0,0, 0,0,0,0,0,0,0,0,0,0, 0,0,0,2.5,.5,0,0,0,0],
    [0,.5,0,0,0,0,0,0,0,.8, 0,0,0,0,0,0,0,0,0,0, 0,0,0,0,1.5,.4,0,0,0,0, 0,0,0,0,0,0,0,0,0,0, 0,0,0,0,0,0,0,0,0,0, 0,0,0,0,0,0,0,0,0],
    [0,.4,0,0,0,0,0,0,0,1, .3,0,0,0,0,0,0,0,0,0, 0,0,0,0,0,0,0,0,0,0, 0,0,0,0,0,0,1,1.5,0,0, 0,0,0,0,0,0,0,0,0,0, 0,0,0,0,0,0,0,0,0],
    [0,2.6,0,0,0,0,0,0,0,1.2, 0,0,0,0,0,0,0,0,0,0, 0,0,0,0,0,0,0,0,0,0, 0,0,0,0,0,3,.8,0,0,0, 0,0,0,0,0,0,0,0,0,0, 0,0,0,0,0,0,0,0,0],
    [0,1.5,0,0,0,0,0,0,0,1.1, 0,1,0,0,0,0,0,0,0,0, 0,0,0,0,0,0,0,0,0,0, 0,0,0,0,.6,1.8,0,0,0,0, 0,0,0,0,0,0,0,0,0,0, 0,0,0,0,0,0,0,0,0],
]

precip_control = [0,0,0,0,0,0,0,0,0,0, 0,0,0,0,0,0,0,0,0,0, 0,0,0,0,0,0,0,0,0,1, .3,0,0,1.4,.1,3.7,11.4,3.9,21.5,14.1, 17.9,1.4,1.4,.5,0,0,0,0,0,0, 0,0,1,1,1.3,.2,0,.3,0]
precip_oper = [0,0,0,0,0,0,0,0,0,0, 0,0,0,0,0,0,0,0,0,0, 0,0,0,0,0,0,0,0,0,1.3, .1,0,0,1.1,0,2.8,8.6,.1,17.7,.3, 3.9,.1,0,0,0,0,0,0,0,0, 0,0,1,.5,.6,.2,0,.4,0]
precip_mean = [0,.6,0,0,0,0,0,0,0,.5, .1,0,0,0,0,0,0,0,.2,.2, .1,0,0,0,0,0,0,0,0,0, .1,.1,.1,0,0,.3,.4,.2,.4,.5, .4,.1,0,0,0,.1,.2,.2,.2,.1, .4,.2,.1,.3,.2,.1,0,.1,.3]

member_names = ['P%d' % (k + 1) for k in range(50)]

# member colours: blue -> green -> yellow -> orange -> dark red, cycling
ens_cmap = LinearSegmentedColormap.from_list('ens', [
    (0.0, '#1a3ccc'), (0.1, '#1a70c8'), (0.155, '#18a0d0'), (0.21, '#18a8b0'),
    (0.26, '#10a888'), (0.31, '#10a860'), (0.365, '#10a840'), (0.42, '#18b020'),
    (0.47, '#20c010'), (0.495, '#c8c010'), (0.575, '#c8a810'), (0.625, '#c89010'),
    (0.68, '#c88010'), (0.73, '#c07010'), (0.78, '#c06010'), (0.83, '#b04818'),
    (0.885, '#a83818'), (0.94, '#982818'), (1.0, '#8a1818')])
member_colors = [ens_cmap((k / 19.2) % 1.0) for k in range(50)]

c_control = '#0000ff'
c_oper = '#11dd11'
c_mean = 'white'
c_clim = '#ff4040'

fig = plt.figure(figsize=(8.5, 6.2), dpi=100, facecolor='black')
ax = fig.add_axes([163 / 850, 61 / 620, 647 / 850, 529 / 620], facecolor='black')
ax2 = ax.twinx()

# temperature
ax.plot(times, t850_control, color=c_control, lw=0.9, zorder=2)
for k, row in enumerate(t850_members):
    ax.plot(times[:len(row)], row, color=member_colors[k], lw=0.8, zorder=3)
ax.plot(times, t850_mean, color=c_mean, lw=2.3, zorder=4)
ax.plot(times, t850_clim, color=c_clim, lw=2.6, zorder=5)
ax.plot(times, t850_oper, color=c_oper, lw=2.3, zorder=6)

# precipitation (right axis)
for k, row in enumerate(precip_members):
    ax2.plot(times[:len(row)], row, color=member_colors[k], lw=0.8, zorder=3)
ax2.plot(times, precip_mean, color=c_mean, lw=2.3, zorder=4)
ax2.plot(times, precip_control, color=c_control, lw=2.3, zorder=5)
ax2.plot(times, precip_oper, color=c_oper, lw=2.3, zorder=6)

ax.set_xlim(run_start, run_start + timedelta(days=15))
ax.set_ylim(-20, 25)
ax2.set_ylim(0, 40)

ax.set_xticks([run_start + timedelta(days=d) for d in range(0, 15, 2)])
ax.set_xticks([run_start + timedelta(days=d) for d in range(1, 16, 2)], minor=True)
ax.xaxis.set_major_formatter(mdates.DateFormatter('%d%b %Hz'))
ax.yaxis.set_major_locator(MultipleLocator(5))

ax.set_axisbelow(True)
ax.grid(True, which='both', axis='x', color='#444444', lw=0.8, linestyle=(0, (4, 4)))
ax.grid(True, which='major', axis='y', color='#444444', lw=0.8, linestyle=(0, (4, 4)))

ax.tick_params(axis='both', which='both', length=0, colors='white', labelsize=7.5)
ax.tick_params(axis='x', pad=8)
ax.tick_params(axis='y', pad=7)

ax2.yaxis.set_major_locator(MultipleLocator(10))
ax2.yaxis.set_minor_locator(MultipleLocator(1))
ax2.tick_params(axis='y', which='both', direction='in', length=5, width=0.8,
                color='white', labelcolor='white', labelsize=7.5, pad=4)

for a in (ax, ax2):
    for sp in a.spines.values():
        sp.set_color('white')
        sp.set_linewidth(1.0)

ax.set_xlabel('Date (UTC)', color='white', fontsize=7.5)
ax.xaxis.set_label_coords(0.5, -0.049)
ax.set_ylabel('850 hPa Temp. (°C)', color='white', fontsize=7.2)
ax.yaxis.set_label_coords(-0.040, 0.497)
ax2.set_ylabel('Precipitación (mm)', color='white', fontsize=7.2)
ax2.yaxis.set_label_coords(1.040, 0.497)

# titles
fig.text(435 / 850, 1 - 12 / 620, 'Lleida  (ES)  850 hPa Temp. & Precipitación | Mon, 06Jan2025 00Z',
         ha='center', va='center', color='white', fontsize=11.5, fontweight='bold')
fig.text(120 / 850, 1 - 598 / 620, 'ECMWF Ensemble, 41.5N, 0.5E',
         ha='left', va='center', color='white', fontsize=11.5)
fig.text(794 / 850, 1 - 598 / 620, 'Wetterzentrale.de',
         ha='right', va='center', color='white', fontsize=11.5)


# legend in two columns at the left edge
def legend_entry(x_px, y_px, color, label, text_y_px=None):
    yf = 1 - y_px / 620
    fig.add_artist(Line2D([x_px / 850, (x_px + 10) / 850], [yf, yf],
                          transform=fig.transFigure, color=color, lw=1.6))
    ty = yf if text_y_px is None else 1 - text_y_px / 620
    fig.text((x_px + 11) / 850, ty, label, color='white', fontsize=7.5,
             ha='left', va='center', linespacing=1.05)


for k in range(50):
    col = k % 2
    row = k // 2
    legend_entry(-2.7 if col == 0 else 53.3, 40 + 15 * row, member_colors[k], member_names[k])
legend_entry(-2.7, 415, c_control, 'Control')
legend_entry(53.3, 415, c_mean, 'Ens. mean')
legend_entry(53.3, 442, c_clim, '1991-2020\nmean', text_y_px=448.5)
legend_entry(-2.7, 455, c_oper, 'Oper')

fig.savefig('out.png', dpi=100, facecolor='black')
